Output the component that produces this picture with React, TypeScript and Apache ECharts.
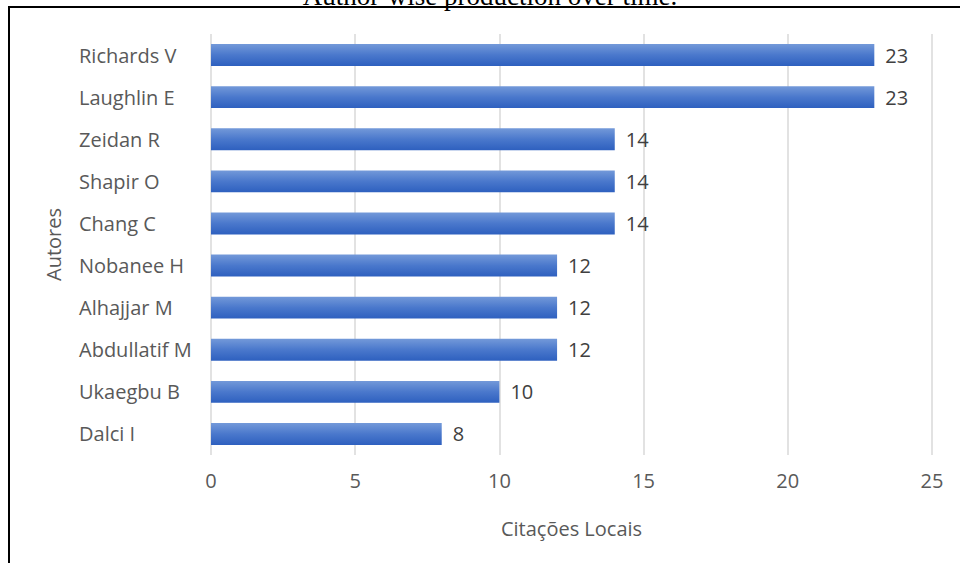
import React, { useEffect, useRef } from "react";
import * as echarts from "echarts";

const categories = [
  "Dalci I",
  "Ukaegbu B",
  "Abdullatif M",
  "Alhajjar M",
  "Nobanee H",
  "Chang C",
  "Shapir O",
  "Zeidan R",
  "Laughlin E",
  "Richards V",
];
const values = [8, 10, 12, 12, 12, 14, 14, 14, 23, 23];
const xTicks = [0, 5, 10, 15, 20, 25];
const titleText = "Author-wise production over time.";
const xAxisName = "Citações Locais";
const yAxisName = "Autores";

export default function App() {
  const ref = useRef<HTMLDivElement>(null);
  useEffect(() => {
    if (!ref.current) return;
    const chart = echarts.init(ref.current, undefined, { renderer: "svg" });
    const font = "'Open Sans', 'Noto Sans', sans-serif";
    chart.setOption({
      animation: false,
      backgroundColor: "#ffffff",
      grid: { left: 211, right: 28, top: 34, bottom: 108, containLabel: false },
      xAxis: {
        type: "value",
        min: xTicks[0],
        max: xTicks[xTicks.length - 1],
        interval: 5,
        axisLine: { show: false },
        axisTick: { show: false },
        splitLine: { show: true, lineStyle: { color: "#d9d9d9", width: 1.5 } },
        axisLabel: { color: "#595959", fontSize: 20, fontFamily: font, margin: 15 },
        name: xAxisName,
        nameLocation: "middle",
        nameGap: 63,
        nameTextStyle: { color: "#595959", fontSize: 20, fontFamily: font },
      },
      yAxis: {
        type: "category",
        data: categories,
        axisLine: { show: false },
        axisTick: { show: false },
        axisLabel: {
          color: "#595959",
          fontSize: 20,
          fontFamily: font,
          align: "left",
          margin: 132,
        },
        name: yAxisName,
        nameLocation: "middle",
        nameGap: 148,
        nameRotate: 90,
        nameTextStyle: { color: "#595959", fontSize: 20, fontFamily: font },
      },
      series: [
        {
          type: "bar",
          data: values,
          barCategoryGap: "48%",
          itemStyle: {
            color: new echarts.graphic.LinearGradient(0, 0, 0, 1, [
              { offset: 0, color: "#7399d9" },
              { offset: 0.5, color: "#4a78cc" },
              { offset: 1, color: "#2e60bf" },
            ]),
          },
          label: {
            show: true,
            position: "right",
            distance: 11,
            color: "#404040",
            fontSize: 20,
            fontFamily: font,
          },
        },
      ],
      graphic: [
        {
          type: "line",
          shape: { x1: 8, y1: 7, x2: 960, y2: 7 },
          style: { stroke: "#000", lineWidth: 2 },
        },
        {
          type: "line",
          shape: { x1: 9, y1: 6, x2: 9, y2: 563 },
          style: { stroke: "#000", lineWidth: 2 },
        },
        {
          type: "line",
          shape: { x1: 447.5, y1: 0, x2: 447.5, y2: 7 },
          style: { stroke: "#000", lineWidth: 1 },
        },
        {
          type: "text",
          x: 490,
          y: -4,
          style: {
            text: titleText,
            fill: "#000",
            font: "27px 'Liberation Serif', 'Times New Roman', serif",
            textAlign: "center",
            textVerticalAlign: "middle",
          },
        },
      ],
    });
    return () => chart.dispose();
  }, []);
  return (
    <div
      ref={ref}
      style={{ position: "fixed", left: 0, top: 0, width: 960, height: 563 }}
    />
  );
}
